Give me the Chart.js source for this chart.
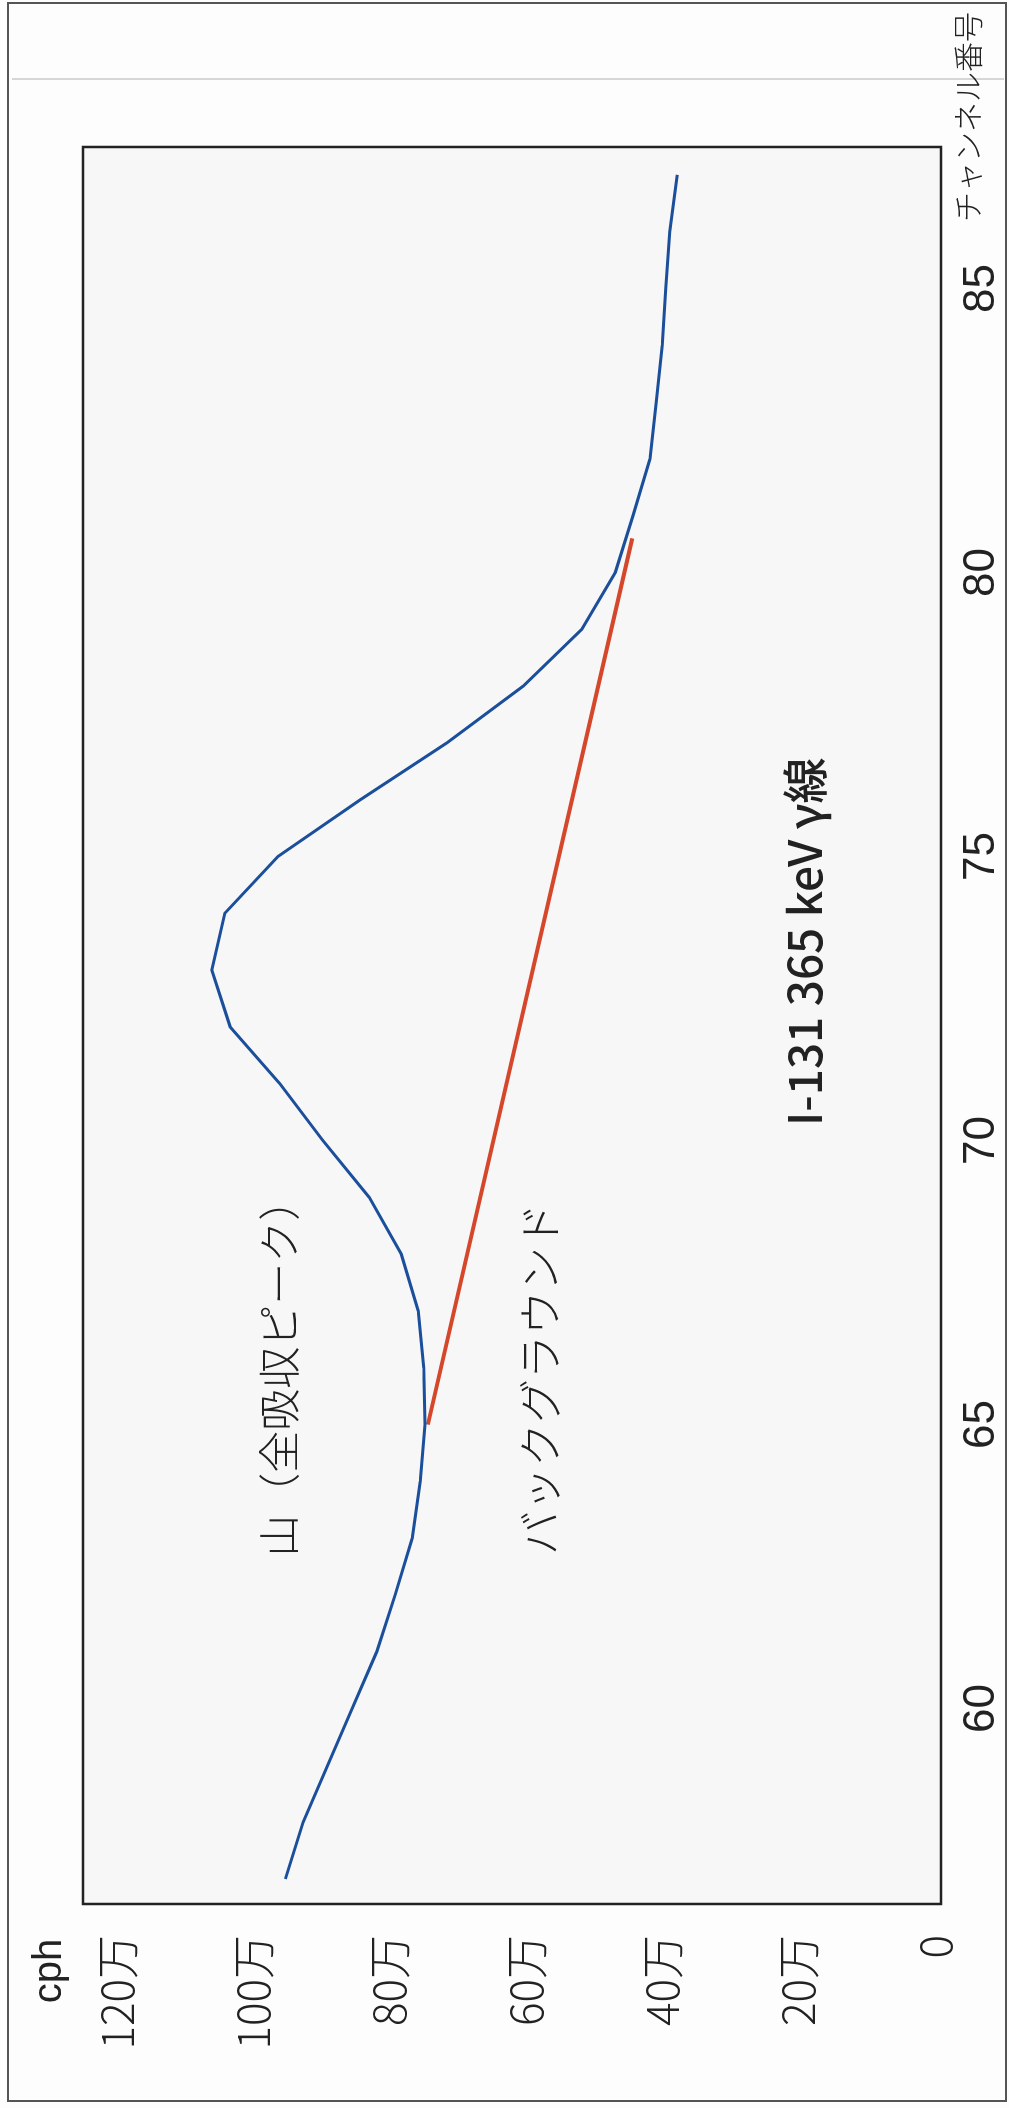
<!DOCTYPE html>
<html><head><meta charset="utf-8">
<script src="https://cdn.jsdelivr.net/npm/chart.js@4.4.1/dist/chart.umd.min.js"></script>
<style>
html,body{margin:0;padding:0;background:#fff;width:1009px;height:2108px;overflow:hidden;}
#wrap{position:absolute;left:0;top:0;width:2108px;height:1009px;transform-origin:0 0;transform:translate(0px,2108px) rotate(-90deg);}
canvas{display:block;}
</style></head><body>
<div id="wrap"><canvas id="c" width="2108" height="1009"></canvas></div>
<script>
// ---- data ----
const channels = [57,58,59,60,61,62,63,64,65,66,67,68,69,70,71,72,73,74,75,76,77,78,79,80,81,82,83,84,85,86,87];
const counts = [953000,927000,891000,855000,819000,792000,767000,755000,748000,750000,758000,783000,830000,898000,961000,1034000,1061000,1042000,964000,843000,716000,604000,518000,469000,443000,418000,409000,400000,395000,389000,378000];
const bgChannels = [65, 80.6];
const bgCounts = [744000, 444000];
const channelTicks = [60,65,70,75,80,85];
const countTicks = [0,200000,400000,600000,800000,1000000,1200000];
const countTickLabels = ['0','20万','40万','60万','80万','100万','120万'];
const xTitle = 'チャンネル番号';
const yTitle = 'cph';
const noteTexts = ['山（全吸収ピーク）','バックグラウンド','I-131 365 keV γ線'];
const noteChannels = [66.0, 65.8, 73.5];
const noteCounts = [962000, 579000, 192000];

const CJK = '"Noto Sans CJK JP", "Noto Sans", sans-serif';
const SANS = '"Liberation Sans", Arial, sans-serif';

const decor = {
  id:'decor',
  beforeDraw(chart){
    const ctx = chart.ctx, a = chart.chartArea;
    ctx.save();
    ctx.fillStyle = '#fdfdfd';
    ctx.fillRect(0,0,chart.width,chart.height);
    ctx.strokeStyle = '#555'; ctx.lineWidth = 2;
    ctx.strokeRect(7, 8, 2098, 998);
    ctx.strokeStyle = '#c8c8c8'; ctx.lineWidth = 1.5;
    ctx.beginPath(); ctx.moveTo(2029, 12); ctx.lineTo(2029, 1004); ctx.stroke();
    ctx.fillStyle = '#f7f7f7';
    ctx.fillRect(a.left, a.top, a.right-a.left, a.bottom-a.top);
    ctx.restore();
  },
  afterDraw(chart){
    const ctx = chart.ctx, a = chart.chartArea;
    const xs = chart.scales.x, ys = chart.scales.y;
    ctx.save();
    ctx.strokeStyle = '#222'; ctx.lineWidth = 2.5;
    ctx.strokeRect(a.left, a.top, a.right-a.left, a.bottom-a.top);
    ctx.fillStyle = '#222';
    ctx.textAlign = 'center'; ctx.textBaseline = 'middle';
    ctx.font = '40px ' + SANS;
    ctx.fillText(yTitle, 137, 50);
    ctx.font = '300 30px ' + CJK;
    ctx.fillText(xTitle, 1991, 968);
    const fonts = ['300 42px ' + CJK, '300 44px ' + CJK, '500 46px ' + CJK];
    noteTexts.forEach((t,i)=>{
      ctx.font = fonts[i];
      ctx.fillText(t, xs.getPixelForValue(noteChannels[i]), ys.getPixelForValue(noteCounts[i]));
    });
    ctx.restore();
  }
};

new Chart(document.getElementById('c'), {
  type:'line',
  data:{
    datasets:[
      {data: channels.map((c,i)=>({x:c,y:counts[i]})), borderColor:'#1b4f9b', borderWidth:3, pointRadius:0, tension:0, fill:false},
      {data: bgChannels.map((c,i)=>({x:c,y:bgCounts[i]})), borderColor:'#d5472b', borderWidth:4, pointRadius:0, tension:0, fill:false}
    ]
  },
  options:{
    responsive:false, animation:false, devicePixelRatio:1,
    layout:{padding:{left:54, right:147, top:83, bottom:8}},
    plugins:{legend:{display:false}, tooltip:{enabled:false}},
    scales:{
      x:{type:'linear', min:56.56, max:87.49,
        grid:{display:false, drawTicks:false}, border:{display:false},
        afterBuildTicks(s){ s.ticks = channelTicks.map(v=>({value:v})); },
        afterFit(s){ s.height = 60; },
        ticks:{padding:14, color:'#222', font:{family:SANS, size:44}, maxRotation:0, autoSkip:false, callback:(v)=>String(v)}
      },
      y:{type:'linear', min:-9000, max:1250000,
        grid:{display:false, drawTicks:false}, border:{display:false},
        afterBuildTicks(s){ s.ticks = countTicks.map(v=>({value:v})); },
        afterFit(s){ s.width = 150; },
        ticks:{padding:31, color:'#222', font:{family:CJK, size:44, weight:'300'}, autoSkip:false,
          callback:(v)=>{ const i = countTicks.indexOf(v); return i>=0 ? countTickLabels[i] : ''; }}
      }
    }
  },
  plugins:[decor]
});
</script>
</body></html>
